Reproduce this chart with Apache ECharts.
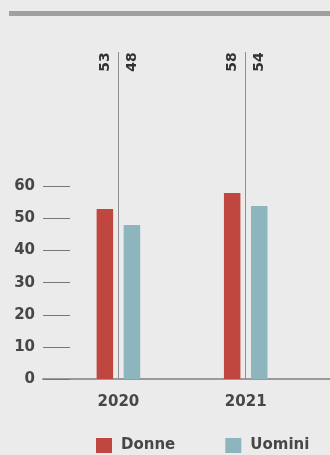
<!DOCTYPE html>
<html>
<head>
<meta charset="utf-8">
<script src="https://cdn.jsdelivr.net/npm/echarts@6/dist/echarts.min.js"></script>
<style>
  html, body { margin: 0; padding: 0; background: #ebebeb; }
  #chart { width: 330px; height: 455px; }
</style>
</head>
<body>
<div id="chart"></div>
<script>
// dati
const anni = ['2020', '2021'];
const donne = [53, 58];
const uomini = [48, 54];

const textColor = '#474747';
const font = 'DejaVu Sans';
const gridTop = 52;
const gridBottom = 76;

const chart = echarts.init(document.getElementById('chart'));

const labelCfg = {
  show: true,
  position: 'top',
  rotate: 90,
  align: 'center',
  verticalAlign: 'middle',
  color: '#333',
  fontFamily: font,
  fontSize: 14,
  fontWeight: 'bold'
};

// etichette sempre in alto, accanto alla linea verticale
const labelLayout = (params) => ({
  x: params.rect.x + params.rect.width / 2,
  y: gridTop + 10
});

chart.setOption({
  backgroundColor: '#ebebeb',
  animation: false,
  graphic: [
    { type: 'rect', left: 9, top: 11, shape: { width: 321, height: 5 }, style: { fill: '#a0a0a0' } }
  ],
  legend: {
    data: ['Donne', 'Uomini'],
    left: 91,
    top: 433,
    icon: 'rect',
    itemWidth: 16,
    itemHeight: 15,
    itemGap: 50,
    textStyle: { color: textColor, fontFamily: font, fontSize: 15, fontWeight: 'bold', padding: [0, 0, 0, 4] }
  },
  grid: [
    { left: 54.75, right: 20.65, top: gridTop, bottom: gridBottom },
    { left: 43, right: 0, top: 379 - 60 * 3.21, bottom: gridBottom }
  ],
  xAxis: [
    {
      type: 'category',
      gridIndex: 0,
      data: anni,
      axisLine: { show: false },
      axisTick: { show: false },
      axisLabel: { color: textColor, fontFamily: font, fontSize: 15, fontWeight: 'bold', margin: 16 }
    },
    {
      type: 'value',
      gridIndex: 1,
      min: 0,
      max: 1,
      axisLine: { show: true, onZero: false, lineStyle: { color: '#9a9a9a', width: 2 } },
      axisTick: { show: false },
      axisLabel: { show: false },
      splitLine: { show: false }
    }
  ],
  yAxis: [
    { type: 'value', gridIndex: 0, min: 0, max: 102, show: false },
    {
      type: 'value',
      gridIndex: 1,
      min: 0,
      max: 60,
      interval: 10,
      axisLine: { show: false },
      axisTick: { show: true, inside: true, length: 27, lineStyle: { color: '#777', width: 1 } },
      axisLabel: { color: textColor, fontFamily: font, fontSize: 15, fontWeight: 'bold', margin: 8 },
      splitLine: { show: false }
    }
  ],
  series: [
    {
      name: 'Donne',
      type: 'bar',
      xAxisIndex: 0,
      yAxisIndex: 0,
      data: donne,
      barWidth: 16.5,
      barGap: '64%',
      itemStyle: { color: '#c0473f' },
      label: labelCfg,
      labelLayout: labelLayout
    },
    {
      name: 'Uomini',
      type: 'bar',
      xAxisIndex: 0,
      yAxisIndex: 0,
      data: uomini,
      barWidth: 16.5,
      barGap: '64%',
      itemStyle: { color: '#8db5bd' },
      label: labelCfg,
      labelLayout: labelLayout
    },
    {
      // linea verticale al centro di ogni anno
      name: 'separatore',
      type: 'line',
      xAxisIndex: 0,
      yAxisIndex: 0,
      data: [],
      markLine: {
        silent: true,
        symbol: 'none',
        label: { show: false },
        lineStyle: { color: '#8f8f8f', width: 1, type: 'solid' },
        data: anni.map(a => ({ xAxis: a }))
      }
    }
  ]
});
</script>
</body>
</html>
